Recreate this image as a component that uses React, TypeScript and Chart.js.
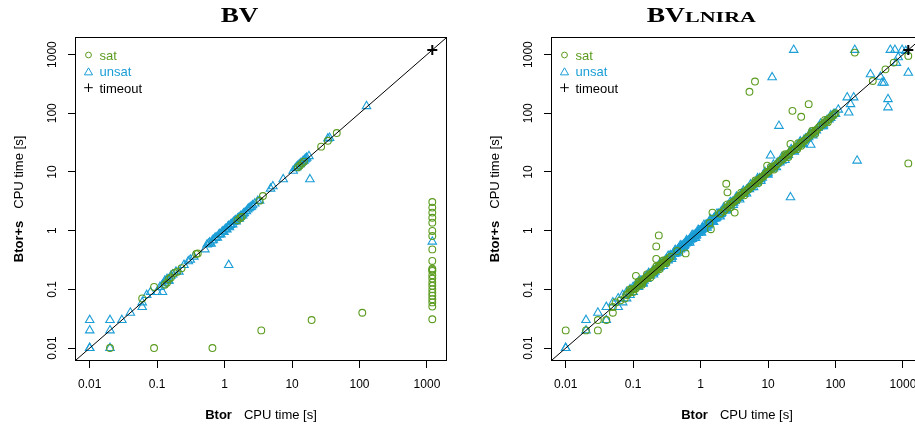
import React, { useEffect, useRef } from 'react';
import { Chart, registerables } from 'chart.js';

Chart.register(...registerables);

type Pt = [number, number];

// ---- axis data ----
const tickValues = [0.01, 0.1, 1, 10, 100, 1000];
const tickLabels = ['0.01', '0.1', '1', '10', '100', '1000'];
const minValue = 0.01;
const timeoutValue = 1200;

// ---- BV panel ----
const bvTimeout: Pt[] = [[1200, 1200]];

const bvUnsat: Pt[] = [
  [0.01, 0.03], [0.01, 0.02], [0.01, 0.01], [0.01, 0.01], [0.02, 0.03], [0.02, 0.02], [0.02, 0.01],
  [0.03, 0.03], [0.04, 0.04], [0.06, 0.05], [0.06, 0.06], [0.07, 0.08], [0.08, 0.09], [0.1, 0.09],
  [0.12, 0.09], [0.11, 0.11], [0.12, 0.12], [0.13, 0.13], [0.14, 0.15], [0.15, 0.14], [0.17, 0.18],
  [0.19, 0.2], [0.21, 0.2], [0.25, 0.26], [0.29, 0.3], [0.31, 0.32], [0.35, 0.36], [0.51, 0.48],
  [0.55, 0.58], [0.6, 0.63], [0.63, 0.6], [0.68, 0.7], [0.72, 0.75], [0.78, 0.76], [0.82, 0.85],
  [0.88, 0.86], [0.92, 0.96], [0.98, 0.95], [1.02, 1.06], [1.08, 1.05], [1.12, 1.17], [1.18, 1.14],
  [1.25, 1.3], [1.32, 1.28], [1.4, 1.45], [1.48, 1.44], [1.56, 1.6], [1.65, 1.6], [1.75, 1.8],
  [1.85, 1.82], [1.95, 2.0], [2.1, 2.15], [2.3, 2.4], [2.5, 2.55], [2.8, 2.9], [3.1, 3.2], [3.3, 3.25],
  [0.58, 0.6], [0.66, 0.68], [0.75, 0.77], [0.85, 0.88], [0.95, 0.98], [1.05, 1.08], [1.15, 1.2],
  [1.22, 1.25], [1.35, 1.4], [1.45, 1.5], [1.6, 1.65], [1.7, 1.72], [1.9, 1.95], [2.2, 2.3],
  [2.4, 2.5], [2.6, 2.7], [0.13, 0.14], [0.145, 0.14], [0.16, 0.17],
  [1.15, 0.26], [4.8, 5.2], [5.2, 5.7], [7.4, 7.5], [10.4, 10.5], [11.2, 11.6], [12, 12.6],
  [12.8, 13.5], [13.6, 14.3], [14.5, 15.2], [15.5, 16.3], [16.5, 17.5], [17.8, 18.6], [18.4, 7.5],
  [11.8, 12.0], [13.2, 13.6], [15, 15.5], [16, 16.8],
  [34, 37], [36, 38], [127, 132], [1200, 0.65],
];

const bvSat: Pt[] = [
  [0.02, 0.01], [0.06, 0.07], [0.09, 0.11], [0.09, 0.01], [0.66, 0.01], [3.5, 0.02], [19.5, 0.03],
  [110, 0.04], [0.13, 0.12], [0.14, 0.13], [0.15, 0.15], [0.16, 0.16], [0.18, 0.19], [0.2, 0.2],
  [0.23, 0.23], [0.38, 0.4], [0.4, 0.41], [1.55, 1.5], [1.7, 1.65], [1.8, 1.72], [3.3, 3.25],
  [3.7, 3.9], [12.2, 12], [13, 12.8], [14, 14], [15, 15], [27, 27], [34, 34], [46, 46],
  [1200, 0.031], [1200, 0.051], [1200, 0.06], [1200, 0.068], [1200, 0.078], [1200, 0.088],
  [1200, 0.1], [1200, 0.115], [1200, 0.131], [1200, 0.153], [1200, 0.174], [1200, 0.206],
  [1200, 0.215], [1200, 0.226], [1200, 0.305], [1200, 0.48], [1200, 0.81], [1200, 0.99],
  [1200, 1.37], [1200, 1.66], [1200, 2.03], [1200, 2.47], [1200, 3.08],
];

// ---- BV_LNIRA panel ----
const lnTimeout: Pt[] = [[1200, 1200]];

const lnUnsat: Pt[] = [
  [24, 1200], [193, 1200], [650, 1200], [760, 1200], [970, 1200], [1200, 490], [11.5, 410],
  [14.5, 61], [10.9, 19], [43, 29], [209, 15.6], [21.5, 3.7], [600, 174], [600, 126], [330, 460],
  [464, 417], [492, 330], [525, 330], [149, 186], [167, 143], [157, 103], [186, 186], [1100, 1150],
  [800, 720], [850, 900], [0.01, 0.01], [0.01, 0.01], [0.02, 0.03], [0.02, 0.02], [0.03, 0.04],
  [0.04, 0.05], [0.04, 0.03], [0.05, 0.06],
  [0.06, 0.07], [0.06, 0.05], [0.07, 0.08], [0.07, 0.06], [0.08, 0.09], [0.08, 0.07], [0.09, 0.1],
  [0.09, 0.08], [0.1, 0.11], [0.1, 0.09], [0.11, 0.12], [0.12, 0.12], [0.12, 0.11], [0.13, 0.14],
  [0.14, 0.13], [0.15, 0.16], [0.16, 0.15], [0.17, 0.18], [0.18, 0.17], [0.2, 0.21], [0.21, 0.2],
  [0.23, 0.24], [0.25, 0.24], [0.27, 0.28], [0.29, 0.28], [0.31, 0.33], [0.33, 0.31], [0.35, 0.37],
  [0.38, 0.36], [0.4, 0.42], [0.43, 0.41], [0.46, 0.48], [0.5, 0.48], [0.53, 0.56], [0.57, 0.55],
  [0.6, 0.63], [0.65, 0.62], [0.7, 0.73], [0.75, 0.72], [0.8, 0.84], [0.86, 0.82], [0.92, 0.96],
  [1.0, 0.96], [1.05, 1.1], [1.12, 1.07], [1.2, 1.25], [1.3, 1.24], [1.4, 1.46], [1.5, 1.43],
  [1.6, 1.67], [1.7, 1.63], [1.85, 1.93], [2.0, 1.92], [2.15, 2.25], [2.3, 2.2], [2.5, 2.6],
  [2.7, 2.6], [2.9, 3.0], [3.1, 3.0], [3.4, 3.5], [3.7, 3.6], [4.0, 4.2], [4.4, 4.2], [4.8, 5.0],
  [5.3, 5.1], [5.8, 6.0], [6.4, 6.2], [7.0, 7.3], [7.8, 7.5], [8.6, 9.0], [9.5, 9.2], [10.5, 11],
  [12, 11.5], [13.5, 14], [15, 14.5], [17, 17.5], [19, 18.5], [21, 22], [24, 23], [27, 28],
  [30, 29], [34, 35], [38, 37], [43, 44], [48, 47], [55, 56], [62, 60], [70, 72], [80, 78],
  [90, 92], [100, 97], [110, 115],
  [0.105, 0.11], [0.115, 0.11], [0.125, 0.13], [0.135, 0.14], [0.145, 0.14], [0.16, 0.17],
  [0.175, 0.17], [0.19, 0.2], [0.2, 0.19], [0.22, 0.23], [0.24, 0.23],
  [0.26, 0.27], [0.275, 0.27], [0.29, 0.3], [0.3, 0.29], [0.32, 0.32], [0.34, 0.33], [0.36, 0.38],
  [0.37, 0.36], [0.39, 0.4], [0.41, 0.4], [0.42, 0.44], [0.44, 0.43], [0.45, 0.46], [0.47, 0.46],
  [0.49, 0.51], [0.51, 0.5], [0.52, 0.54], [0.55, 0.53], [0.56, 0.58], [0.58, 0.57], [0.6, 0.6],
  [0.62, 0.64], [0.64, 0.62], [0.66, 0.68], [0.68, 0.66], [0.71, 0.7], [0.73, 0.76], [0.76, 0.74],
  [0.78, 0.8], [0.81, 0.79], [0.84, 0.87], [0.87, 0.85], [0.9, 0.92], [0.93, 0.91], [0.96, 1.0],
  [0.99, 0.97], [1.03, 1.03], [1.07, 1.1], [1.1, 1.08], [1.15, 1.18], [1.17, 1.13], [1.22, 1.26],
  [1.26, 1.22], [1.3, 1.33], [1.35, 1.32], [1.4, 1.4], [1.45, 1.5], [1.5, 1.47], [1.55, 1.58],
  [1.62, 1.6], [1.68, 1.72], [1.75, 1.7], [1.82, 1.86], [1.9, 1.86], [1.98, 2.05], [2.05, 2.0],
  [2.2, 2.28], [2.4, 2.35], [2.6, 2.7], [2.8, 2.72], [3.0, 3.1], [3.25, 3.2],
  [4.2, 4.3], [4.6, 4.5], [5.1, 5.3], [5.6, 5.5], [6.2, 6.4], [6.8, 6.6], [7.5, 7.8], [8.2, 8.0],
  [9, 9.3], [10, 9.7], [11, 11.4], [12.5, 12.2], [14, 14.5], [16, 15.5], [18, 18.6], [20, 19.5],
  [22.5, 23.3], [25.5, 25], [29, 30], [32, 31], [36, 37], [40, 39], [46, 47], [52, 51], [58, 60],
  [66, 64], [75, 77], [85, 83], [95, 98],
  [0.12, 0.135], [0.14, 0.125], [0.17, 0.19], [0.2, 0.18], [0.25, 0.28], [0.28, 0.25], [0.33, 0.37],
  [0.37, 0.33], [0.42, 0.47], [0.47, 0.42], [0.5, 0.56], [0.56, 0.5], [0.62, 0.69], [0.69, 0.62],
  [0.75, 0.84], [0.84, 0.75], [0.92, 1.03], [1.03, 0.92], [1.12, 1.25], [1.25, 1.12], [1.4, 1.56],
  [1.56, 1.4], [1.75, 1.95], [1.95, 1.75], [2.2, 2.45], [2.45, 2.2], [2.75, 3.05], [3.05, 2.75],
  [3.4, 3.8], [3.8, 3.4], [4.3, 4.8], [4.8, 4.3], [5.5, 6.1], [6.1, 5.5], [7, 7.8], [7.8, 7],
  [9, 10], [10, 9], [12, 13.3], [13.3, 12], [16, 17.8], [17.8, 16], [22, 24.5], [24.5, 22],
  [30, 33], [33, 30], [42, 46], [46, 42], [60, 66], [66, 60], [85, 92],
];

const lnSat: Pt[] = [
  [193, 1080], [1200, 950], [1200, 14], [6.4, 347], [5.3, 232], [23, 110], [40, 143], [31, 87],
  [9.7, 12.8], [21.5, 30], [27, 24.5], [357, 355], [550, 560], [730, 730], [0.01, 0.02],
  [0.02, 0.02], [0.03, 0.02], [0.03, 0.03], [0.04, 0.03], [0.05, 0.04], [0.11, 0.17], [0.24, 0.83],
  [0.22, 0.54], [0.22, 0.33], [0.6, 0.41], [1.42, 1.06], [1.5, 2.03], [2.4, 6.3], [2.5, 4.5],
  [3.2, 2.03],
  [0.05, 0.05], [0.055, 0.06], [0.065, 0.065], [0.075, 0.07], [0.085, 0.085], [0.095, 0.1],
  [0.105, 0.1], [0.115, 0.115], [0.125, 0.13], [0.135, 0.13], [0.145, 0.145], [0.155, 0.16],
  [0.165, 0.16], [0.175, 0.175], [0.19, 0.19], [0.2, 0.2], [0.215, 0.22], [0.23, 0.225],
  [0.245, 0.25], [0.26, 0.26], [0.28, 0.28], [0.3, 0.3], [0.32, 0.32], [0.34, 0.34], [0.36, 0.36],
  [0.45, 0.45], [1.35, 1.35], [1.95, 1.95],
  [2.3, 2.3], [2.7, 2.7], [3.0, 3.05], [3.3, 3.3], [3.6, 3.7], [4.0, 4.0], [4.5, 4.5], [5.0, 5.0],
  [5.5, 5.6], [6.0, 6.0], [6.6, 6.7], [7.3, 7.3], [8.0, 8.1], [8.8, 8.8], [9.7, 9.8], [11, 11],
  [12.5, 12.5], [14, 14], [16, 16], [18, 18.5], [20, 20], [22.5, 23], [25, 25], [28, 27], [31, 31],
  [35, 34], [39, 39], [44, 45], [50, 50], [57, 58], [65, 65], [75, 75], [85, 85], [95, 95],
  [100, 100],
  [0.08, 0.08], [0.09, 0.09], [0.1, 0.1], [0.11, 0.105], [0.12, 0.12], [0.13, 0.125], [0.14, 0.14],
  [0.15, 0.15], [0.16, 0.155], [0.17, 0.17], [0.18, 0.18], [0.185, 0.18], [0.195, 0.2], [0.205, 0.2],
  [0.21, 0.21], [0.22, 0.215], [0.235, 0.235], [0.25, 0.245], [0.27, 0.27], [0.29, 0.29], [0.31, 0.3],
  [2.0, 2.0], [2.2, 2.15], [2.5, 2.5], [2.8, 2.85], [3.1, 3.1], [3.5, 3.4], [3.8, 3.9], [4.2, 4.2],
  [4.7, 4.8], [5.2, 5.2], [5.8, 5.7], [6.3, 6.4], [7.0, 7.0], [7.6, 7.7], [8.4, 8.3], [9.2, 9.3],
  [10.2, 10.2], [11.5, 11.6], [13, 13], [15, 15.2], [17, 17], [19, 19.2], [21, 21], [24, 24],
  [26.5, 27], [30, 30], [33, 33], [37, 37], [42, 42], [47, 47], [53, 53], [60, 61], [70, 70],
  [80, 80], [90, 90],
  [0.09, 0.1], [0.1, 0.09], [0.12, 0.135], [0.135, 0.12], [0.16, 0.18], [0.18, 0.16], [0.22, 0.245],
  [0.245, 0.22], [0.28, 0.31], [0.31, 0.28], [2.5, 2.8], [2.8, 2.5], [4, 4.45], [4.45, 4],
  [6.5, 7.2], [7.2, 6.5], [11, 12.2], [12.2, 11], [18, 20], [20, 18], [28, 31], [31, 28],
  [45, 50], [50, 45], [70, 77], [77, 70],
];

// ---- styles ----
const GREEN = '#5b9b1e';
const BLUE = '#1b9ed6';
const SANS = '"Liberation Sans", Arial, Helvetica, sans-serif';
const SERIF = '"Liberation Serif", "Times New Roman", serif';

const logMin = Math.log10(minValue);
const logMax = Math.log10(timeoutValue);
const ext = (logMax - logMin) * 0.04;
const AXIS_MIN = Math.pow(10, logMin - ext);
const AXIS_MAX = Math.pow(10, logMax + ext);

const W = 457;
const H = 427;

function toXY(pts: Pt[]) {
  return pts.map(([x, y]) => ({ x, y }));
}

function fmt(value: any) {
  const i = tickValues.indexOf(Number(value));
  return i >= 0 ? tickLabels[i] : '';
}

interface TitlePart { text: string; x: number; size: number; width: number; }

function drawStretched(ctx: CanvasRenderingContext2D, p: TitlePart, baseline: number) {
  ctx.font = `bold ${p.size}px ${SERIF}`;
  const w = ctx.measureText(p.text).width;
  ctx.save();
  ctx.translate(p.x, baseline);
  ctx.scale(p.width / w, 1);
  ctx.fillText(p.text, 0, 0);
  ctx.restore();
}

function makeDecor(titleParts: TitlePart[]) {
  return {
    id: 'decor',
    afterDatasetsDraw(chart: any) {
      const ctx: CanvasRenderingContext2D = chart.ctx;
      const a = chart.chartArea;
      ctx.save();
      // box
      ctx.strokeStyle = '#000';
      ctx.lineWidth = 1;
      ctx.strokeRect(Math.round(a.left) - 0.5, Math.round(a.top) - 0.5,
        Math.round(a.right - a.left) + 1, Math.round(a.bottom - a.top) + 1);

      // legend
      const sx = a.left + 12.5;
      const tx = a.left + 23.5;
      ctx.lineWidth = 1;
      ctx.strokeStyle = GREEN;
      ctx.beginPath();
      ctx.arc(sx, a.top + 17, 2.9, 0, Math.PI * 2);
      ctx.stroke();
      ctx.strokeStyle = BLUE;
      const r = 4.7;
      const cy = a.top + 34.5;
      ctx.beginPath();
      ctx.moveTo(sx, cy - r);
      ctx.lineTo(sx + r * Math.sin(2 * Math.PI / 3), cy - r * Math.cos(2 * Math.PI / 3));
      ctx.lineTo(sx + r * Math.sin(4 * Math.PI / 3), cy - r * Math.cos(4 * Math.PI / 3));
      ctx.closePath();
      ctx.stroke();
      ctx.strokeStyle = '#000';
      const py = a.top + 49.7;
      ctx.beginPath();
      ctx.moveTo(sx - 4.3, py);
      ctx.lineTo(sx + 4.3, py);
      ctx.moveTo(sx, py - 4.3);
      ctx.lineTo(sx, py + 4.3);
      ctx.stroke();

      ctx.font = `13px ${SANS}`;
      ctx.textAlign = 'left';
      ctx.textBaseline = 'alphabetic';
      ctx.fillStyle = GREEN;
      ctx.fillText('sat', tx, a.top + 21.5);
      ctx.fillStyle = BLUE;
      ctx.fillText('unsat', tx, a.top + 38);
      ctx.fillStyle = '#000';
      ctx.fillText('timeout', tx, a.top + 54.5);
      ctx.restore();
    },
    afterDraw(chart: any) {
      const ctx: CanvasRenderingContext2D = chart.ctx;
      const a = chart.chartArea;
      ctx.save();
      ctx.fillStyle = '#000';
      ctx.textAlign = 'left';
      ctx.textBaseline = 'alphabetic';
      // main title
      titleParts.forEach((p) => drawStretched(ctx, p, 22));

      // axis titles
      const bold = `bold 13px ${SANS}`;
      const norm = `13px ${SANS}`;
      const gap = 12;
      const drawAxisTitle = (boldText: string, normText: string) => {
        ctx.font = bold;
        const wb = ctx.measureText(boldText).width;
        ctx.font = norm;
        const wn = ctx.measureText(normText).width;
        const total = wb + gap + wn;
        ctx.font = bold;
        ctx.fillText(boldText, -total / 2, 0);
        ctx.font = norm;
        ctx.fillText(normText, -total / 2 + wb + gap, 0);
      };
      ctx.save();
      ctx.translate((a.left + a.right) / 2, 418.5);
      drawAxisTitle('Btor', 'CPU time [s]');
      ctx.restore();
      ctx.save();
      ctx.translate(22.5, (a.top + a.bottom) / 2);
      ctx.rotate(-Math.PI / 2);
      drawAxisTitle('Btor+s', 'CPU time [s]');
      ctx.restore();
      ctx.restore();
    },
  };
}

function Panel({ sat, unsat, timeout, titleParts }: { sat: Pt[]; unsat: Pt[]; timeout: Pt[]; titleParts: TitlePart[] }) {
  const ref = useRef<HTMLCanvasElement>(null);
  useEffect(() => {
    const axisCommon = {
      type: 'logarithmic' as const,
      min: AXIS_MIN,
      max: AXIS_MAX,
      afterBuildTicks: (s: any) => {
        s.ticks = tickValues.map((v) => ({ value: v }));
      },
      grid: {
        display: true,
        drawOnChartArea: false,
        drawTicks: true,
        tickLength: 8,
        color: '#000',
        lineWidth: 1,
      },
      border: { display: false },
      title: { display: false },
    };
    const chart = new Chart(ref.current as HTMLCanvasElement, {
      type: 'scatter',
      data: {
        datasets: [
          {
            type: 'line',
            data: [{ x: AXIS_MIN, y: AXIS_MIN }, { x: AXIS_MAX, y: AXIS_MAX }],
            borderColor: '#000',
            borderWidth: 1,
            pointRadius: 0,
            pointHoverRadius: 0,
            fill: false,
            tension: 0,
            order: 0,
          } as any,
          {
            label: 'timeout',
            data: toXY(timeout),
            pointStyle: 'cross',
            pointRadius: 5,
            borderColor: '#000',
            backgroundColor: '#000',
            borderWidth: 2,
            order: 1,
          },
          {
            label: 'sat',
            data: toXY(sat),
            pointStyle: 'circle',
            pointRadius: 3.4,
            borderColor: GREEN,
            backgroundColor: 'rgba(0,0,0,0)',
            borderWidth: 1.1,
            order: 2,
          },
          {
            label: 'unsat',
            data: toXY(unsat),
            pointStyle: 'triangle',
            pointRadius: 4.9,
            borderColor: BLUE,
            backgroundColor: 'rgba(0,0,0,0)',
            borderWidth: 1.1,
            order: 3,
          },
        ],
      },
      options: {
        responsive: false,
        animation: false,
        events: [],
        layout: { padding: { left: 0, right: 11, top: 38, bottom: 0 } },
        plugins: {
          legend: { display: false },
          tooltip: { enabled: false },
          title: { display: false },
        },
        scales: {
          x: {
            ...axisCommon,
            position: 'bottom',
            afterFit: (s: any) => {
              s.height = 67;
            },
            ticks: {
              autoSkip: false,
              minRotation: 0,
              maxRotation: 0,
              padding: 9,
              color: '#000',
              font: { family: SANS, size: 12 },
              callback: fmt,
            },
          },
          y: {
            ...axisCommon,
            position: 'left',
            afterFit: (s: any) => {
              s.width = 76;
            },
            ticks: {
              autoSkip: false,
              minRotation: 90,
              maxRotation: 90,
              crossAlign: 'center',
              padding: 2,
              color: '#000',
              font: { family: SANS, size: 12 },
              callback: fmt,
            },
          },
        } as any,
      },
      plugins: [makeDecor(titleParts)],
    });
    return () => chart.destroy();
  }, []);
  return <canvas ref={ref} width={W} height={H} style={{ display: 'block', width: W, height: H }} />;
}

export default function App() {
  return (
    <div style={{ position: 'fixed', left: 0, top: 0, width: 915, height: 427, overflow: 'hidden', background: '#fff' }}>
      <div style={{ position: 'absolute', left: 0, top: 0 }}>
        <Panel sat={bvSat} unsat={bvUnsat} timeout={bvTimeout}
          titleParts={[{ text: 'BV', x: 220.7, size: 20, width: 37.7 }]} />
      </div>
      <div style={{ position: 'absolute', left: 476, top: 0 }}>
        <Panel sat={lnSat} unsat={lnUnsat} timeout={lnTimeout}
          titleParts={[
            { text: 'BV', x: 170.7, size: 20, width: 38.3 },
            { text: 'LNIRA', x: 209, size: 14, width: 71 },
          ]} />
      </div>
    </div>
  );
}
